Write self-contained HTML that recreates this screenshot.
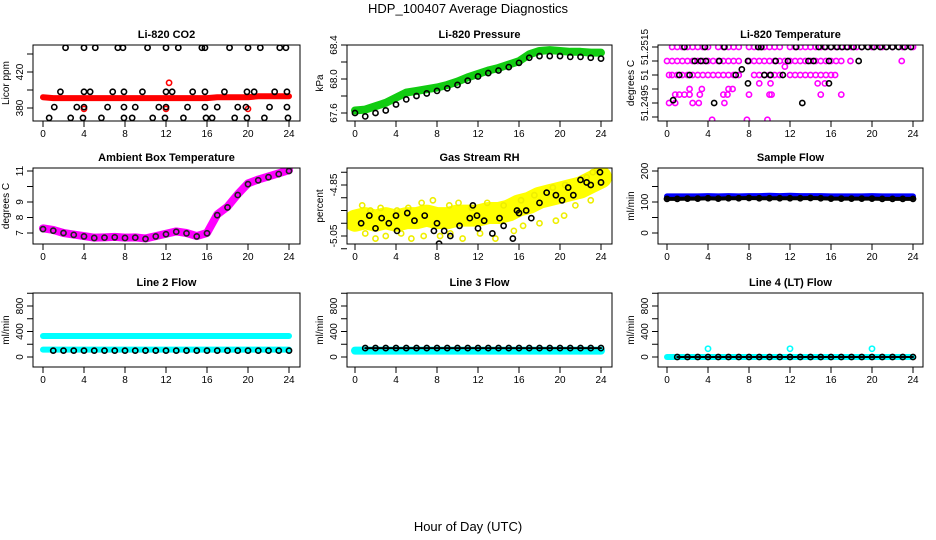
<!DOCTYPE html>
<html><head><meta charset="utf-8"><style>
body{margin:0;background:#fff}
svg{display:block;font-family:"Liberation Sans",sans-serif}
</style></head><body>
<svg id="c" width="936" height="540" viewBox="0 0 936 540">
<text x="468" y="13" text-anchor="middle" font-size="13">HDP_100407  Average Diagnostics</text>
<text x="468" y="531" text-anchor="middle" font-size="13">Hour of Day (UTC)</text>
</svg>
<script>
const hours = [0,1,2,3,4,5,6,7,8,9,10,11,12,13,14,15,16,17,18,19,20,21,22,23,24];
const xTicks = [0,4,8,12,16,20,24];
// CO2
const co2Red = [392,391,391,391,391,391,391,391,391,391,391,391,391,391,391,391,391,392,392,392,392,393,393,393,393];
const co2BlackT = [2.2,4,5.1,7.3,7.8,10.2,12,13.2,15.5,15.8,18.2,20,21.2,23.1,23.7, 1.7,4,4.6,6.8,7.9,9.7,12,12.6,14.6,15.8,17.7,19.9,20.6,22.6,23.8, 1.1,3.3,4,6.3,7.9,9,11.3,12,14.1,15.8,17,19,19.8,22.1,23.8, 0.6,2.7,3.9,5.7,7.9,8.7,10.7,11.9,13.7,15.9,16.5,18.7,19.9,21.6,23.9];
const co2BlackV = [447,447,447,447,447,447,447,447,447,447,447,447,447,447,447, 398,398,398,398,398,398,398,398,398,398,398,398,398,398,398, 381,381,381,381,381,381,381,381,381,381,381,381,381,381,381, 369,369,369,369,369,369,369,369,369,369,369,369,369,369,369];
const co2OutT = [12.3,4,12,20];
const co2OutV = [408,379,379,379];
// Pressure
const presGreen = [67.63,67.64,67.68,67.72,67.78,67.84,67.86,67.88,67.9,67.93,67.97,68.02,68.06,68.1,68.13,68.17,68.21,68.29,68.33,68.34,68.33,68.32,68.32,68.31,68.31];
const presBlack = [67.6,67.56,67.6,67.63,67.7,67.76,67.8,67.83,67.86,67.89,67.93,67.98,68.03,68.07,68.1,68.14,68.19,68.25,68.27,68.27,68.27,68.26,68.26,68.25,68.24];
// Temperature
const tempMagT = [0.5,1,1.5,2,2.5,3,3.5,4,5,5.5,6,6.5,7,8,8.5,9,9.5,10,10.5,11,12,12.5,13,13.5,14,14.5,15,15.5,16,16.5,17,17.5,18,18.5,19,20,21,22,23,24, 0,0.5,1,1.5,2,2.5,3,3.5,4,4.5,5,5.5,6,6.5,7,8,8.5,9,9.5,10,10.5,11,11.5,12,12.5,13,13.5,14,14.5,15,15.5,16,16.5,17,17.9,22.9, 0.2,0.5,1,1.5,2,2.5,3,3.5,4,4.5,5,5.5,6,6.5,7,8.5,9,9.5,10,10.5,11,12,12.5,13,13.5,14,14.5,15,15.5,16,16.4, 0.8,1.2,1.7,2.2,3.2,5.5,5.9,8,10,10.2,15,17, 0.2,0.8,2.5,3.1,5.6,4.4,7.8,9.8,11.5,2.2,3.4,6,6.4,9,10.1,14.7,15.4];
const tempMagV = [51.2515,51.2515,51.2515,51.2515,51.2515,51.2515,51.2515,51.2515,51.2515,51.2515,51.2515,51.2515,51.2515,51.2515,51.2515,51.2515,51.2515,51.2515,51.2515,51.2515,51.2515,51.2515,51.2515,51.2515,51.2515,51.2515,51.2515,51.2515,51.2515,51.2515,51.2515,51.2515,51.2515,51.2515,51.2515,51.2515,51.2515,51.2515,51.2515,51.2515, 51.251,51.251,51.251,51.251,51.251,51.251,51.251,51.251,51.251,51.251,51.251,51.251,51.251,51.251,51.251,51.251,51.251,51.251,51.251,51.251,51.251,51.251,51.251,51.251,51.251,51.251,51.251,51.251,51.251,51.251,51.251,51.251,51.251,51.251,51.251,51.251, 51.2505,51.2505,51.2505,51.2505,51.2505,51.2505,51.2505,51.2505,51.2505,51.2505,51.2505,51.2505,51.2505,51.2505,51.2505,51.2505,51.2505,51.2505,51.2505,51.2505,51.2505,51.2505,51.2505,51.2505,51.2505,51.2505,51.2505,51.2505,51.2505,51.2505,51.2505, 51.2498,51.2498,51.2498,51.2498,51.2498,51.2498,51.2498,51.2498,51.2498,51.2498,51.2498,51.2498, 51.2495,51.2495,51.2495,51.2495,51.2495,51.2489,51.2489,51.2489,51.2508, 51.25,51.25,51.25,51.25,51.2502,51.2502,51.2502,51.2502];
const tempBlackT = [1.7,3.7,5.6,8.9,9.2,12.6,14.8,15.4,16,16.6,17.1,17.6,18.2,19,19.6,20.2,20.8,21.4,22,22.6,23.2,23.8, 2.7,3.3,3.8,5.1,7.9,10.6,11.8,13.8,14.3,15.8,18.7, 1.2,2.2,6.7,9.5,10.1,11.3, 0.6,7.9,15.8, 4.6,13.2,7.3];
const tempBlackV = [51.2515,51.2515,51.2515,51.2515,51.2515,51.2515,51.2515,51.2515,51.2515,51.2515,51.2515,51.2515,51.2515,51.2515,51.2515,51.2515,51.2515,51.2515,51.2515,51.2515,51.2515,51.2515, 51.251,51.251,51.251,51.251,51.251,51.251,51.251,51.251,51.251,51.251,51.251, 51.2505,51.2505,51.2505,51.2505,51.2505,51.2505, 51.2496,51.2502,51.2502, 51.2495,51.2495,51.2507];
// Ambient box temperature
const ambMag = [7.3,7.2,7.0,6.9,6.8,6.7,6.72,6.75,6.7,6.72,6.65,6.8,6.95,7.1,7.0,6.8,7.0,8.2,8.7,9.5,10.2,10.45,10.65,10.85,11.05];
const ambBlack = [7.25,7.15,7.0,6.88,6.78,6.68,6.7,6.72,6.68,6.7,6.62,6.78,6.92,7.08,6.98,6.78,6.98,8.15,8.65,9.45,10.15,10.4,10.6,10.8,11.0];
// Gas stream RH
const rhYellow = [-4.99,-4.98,-4.99,-4.98,-4.99,-4.98,-4.98,-4.97,-4.98,-4.98,-4.97,-4.97,-4.97,-4.96,-4.96,-4.95,-4.93,-4.92,-4.9,-4.89,-4.88,-4.87,-4.86,-4.84,-4.82];
const rhYellowHiT = [0.7,1.5,2.5,4.1,5.2,6.5,7.6,9.2,10.1,11.4,12.9,14.5,16.2,17.5,19.3,20.5,22.6,23.2];
const rhYellowHiV = [-4.93,-4.95,-4.94,-4.95,-4.94,-4.92,-4.91,-4.93,-4.92,-4.94,-4.92,-4.93,-4.91,-4.89,-4.86,-4.85,-4.82,-4.8];
const rhYellowLoT = [1,2,3,4.5,5.5,6.7,8.3,9.3,10.5,12.2,13.7,15.5,16.4,18,19.6,20.4,21.5,23];
const rhYellowLoV = [-5.04,-5.06,-5.05,-5.04,-5.06,-5.05,-5.05,-5.04,-5.06,-5.04,-5.06,-5.03,-5.01,-5.0,-4.99,-4.97,-4.93,-4.91];
const rhBlackT = [0.6,1.4,2,2.6,3.3,4,4.1,5.1,5.8,6.8,7.7,8,8.2,8.7,9.3,10.2,11.2,11.5,11.9,12,12.6,13.4,14.1,14.5,15.4,15.8,16,16.7,17.2,18,18.7,19.6,20.2,20.8,21.3,22,22.6,23,23.9,24];
const rhBlackV = [-5.0,-4.97,-5.02,-4.98,-5.0,-4.97,-5.03,-4.96,-4.99,-4.97,-5.03,-5.0,-5.08,-5.03,-5.05,-5.01,-4.98,-4.93,-4.97,-5.02,-4.99,-5.04,-4.98,-5.01,-5.06,-4.95,-4.96,-4.95,-4.98,-4.92,-4.88,-4.89,-4.91,-4.86,-4.89,-4.83,-4.84,-4.85,-4.8,-4.84];
// Sample flow
const sampBlue = [118,118,118,118,119,118,119,118,119,119,120,119,120,119,119,119,118,118,118,118,119,118,118,118,118];
const sampBlack = [110,110,111,111,112,111,112,112,113,112,112,112,112,112,113,112,111,111,111,111,111,110,110,110,110];
// Line flows
const l2CyanHi = [330,330,330,330,330,330,330,330,330,330,330,330,330,330,330,330,330,330,330,330,330,330,330,330,330];
const l2CyanLo = [115,115,115,115,115,115,115,115,115,115,115,115,115,115,115,115,115,115,115,115,115,115,115,115,115];
const l2Black = [100,100,100,100,100,100,100,100,100,100,100,100,100,100,100,100,100,100,100,100,100,100,100,100,100];
const l3Cyan = [100,100,100,100,100,100,100,100,100,100,100,100,100,100,100,100,100,100,100,100,100,100,100,100,100];
const l3Black = [140,140,140,140,140,140,140,140,140,140,140,140,140,140,140,140,140,140,140,140,140,140,140,140,140];
const l4Cyan = [0,0,0,0,0,0,0,0,0,0,0,0,0,0,0,0,0,0,0,0,0,0,0,0,0];
const l4Black = [0,0,0,0,0,0,0,0,0,0,0,0,0,0,0,0,0,0,0,0,0,0,0,0,0];
const l4OutT = [4,12,20];
const l4OutV = [130,130,130];

const NS = 'http://www.w3.org/2000/svg';
const svg = document.getElementById('c');
function mk(tag, attrs, parent){ const e=document.createElementNS(NS,tag); for(const k in attrs) e.setAttribute(k,attrs[k]); (parent||svg).appendChild(e); return e; }
const cols = [{x0:43,x1:289,bl:33,br:300},{x0:355,x1:601,bl:347,br:612},{x0:667,x1:913,bl:658,br:923}];
const rows = [{t:45,b:121},{t:168,b:244},{t:293,b:367}];

function panel(ci, ri, name, title, ylab, v0, p0, v1, p1, yticks, ylabels){
  const c=cols[ci], r=rows[ri];
  const g=mk('g',{});
  
  
  const xs = h => c.x0 + (h/24)*(c.x1-c.x0);
  const ys = v => p0 + (v-v0)*(p1-p0)/(v1-v0);
  const t=mk('text',{x:(c.bl+c.br)/2,y:r.t-7,'text-anchor':'middle','font-size':11,'font-weight':'bold'},g);
  t.textContent=title;
  
  
  const clip = mk('clipPath',{id:'cl'+ci+ri},g);
  mk('rect',{x:c.bl,y:r.t,width:c.br-c.bl,height:r.b-r.t},clip);
  const plot=mk('g',{'clip-path':'url(#cl'+ci+ri+')'},g);
  
  
  const box=mk('rect',{x:c.bl,y:r.t,width:c.br-c.bl,height:r.b-r.t,fill:'none',stroke:'#000','stroke-width':1},g);
  
  
  xTicks.forEach(h=>{
    mk('line',{x1:xs(h),x2:xs(h),y1:r.b,y2:r.b+6,stroke:'#000'},g);
    const tl=mk('text',{x:xs(h),y:r.b+16,'text-anchor':'middle','font-size':10},g); tl.textContent=h;
    
    
  });
  yticks.forEach((v,i)=>{
    const y=ys(v);
    mk('line',{x1:c.bl-6,x2:c.bl,y1:y,y2:y,stroke:'#000'},g);
    if(ylabels[i]){ const tl=mk('text',{x:0,y:0,'text-anchor':'middle','font-size':10,transform:`translate(${c.bl-10},${y}) rotate(-90)`},g); tl.textContent=ylabels[i];
      
       }
  });
  const yl=mk('text',{x:0,y:0,'text-anchor':'middle','font-size':10,transform:`translate(${c.bl-24},${(r.t+r.b)/2}) rotate(-90)`},g);
  yl.textContent=ylab;
  
  
  return {plot,xs,ys};
}
function band(P, ts, vs, color, w, name){
  const pl=mk('polyline',{points:ts.map((h,i)=>P.xs(h)+','+P.ys(vs[i])).join(' '),fill:'none',stroke:color,'stroke-width':w,'stroke-linecap':'round','stroke-linejoin':'round'},P.plot);
  
  
}
function pts(P, ts, vs, color, name, r){
  const g=mk('g',{},P.plot);
  
  
  ts.forEach((h,i)=>{ mk('circle',{cx:P.xs(h),cy:P.ys(vs[i]),r:r||2.6,fill:'none',stroke:color,'stroke-width':1.6},g); });
}

let P;
P=panel(0,0,'co2-panel','Li-820 CO2','Licor ppm',380,108,420,72,[380,400,420,440],['380','','420','']);
band(P,hours,co2Red,'#f00',6,'co2-red-series');
pts(P,co2OutT,co2OutV,'#f00','co2-red-outliers');
pts(P,co2BlackT,co2BlackV,'#000','co2-black-points');

P=panel(1,0,'pressure-panel','Li-820 Pressure','kPa',67.6,113,68.4,45,[67.6,67.8,68.0,68.2,68.4],['67.6','','68.0','','68.4']);
band(P,hours,presGreen,'#1c1',8,'pressure-green-series');
pts(P,hours,presBlack,'#000','pressure-black-points');

P=panel(2,0,'temperature-panel','Li-820 Temperature','degrees C',51.249,117,51.2515,47,[51.249,51.2495,51.25,51.2505,51.251,51.2515],['','51.2495','','51','','51.2515']);
pts(P,tempMagT,tempMagV,'#f0f','temp-magenta-points');
pts(P,tempBlackT,tempBlackV,'#000','temp-black-points');

P=panel(0,1,'ambient-panel','Ambient Box Temperature','degrees C',7,233,11,171,[7,8,9,10,11],['7','8','9','','11']);
band(P,hours,ambMag,'#f0f',8,'ambient-magenta-series');
pts(P,hours,ambBlack,'#222','ambient-black-points');

P=panel(1,1,'rh-panel','Gas Stream RH','percent',-5.05,236,-4.85,185,[-5.1,-5.05,-5.0,-4.95,-4.9,-4.85,-4.8],['','-5.05','','','','-4.85','']);
band(P,hours,rhYellow,'#ff0',22,'rh-yellow-series');
pts(P,rhYellowHiT,rhYellowHiV,'#ee0','rh-yellow-high-points');
pts(P,rhYellowLoT,rhYellowLoV,'#ee0','rh-yellow-low-points');
pts(P,rhBlackT,rhBlackV,'#000','rh-black-points');

P=panel(2,1,'sample-flow-panel','Sample Flow','ml/min',0,233,200,171,[0,50,100,150,200],['0','','100','','200']);
band(P,hours,sampBlue,'#00f',6,'sample-blue-series');
band(P,hours,sampBlack,'#000',4,'sample-black-line');
pts(P,hours,sampBlack,'#000','sample-black-points');

P=panel(0,2,'line2-flow-panel','Line 2 Flow','ml/min',0,357,800,306,[0,200,400,600,800,1000],['0','','400','','800','']);
band(P,hours,l2CyanHi,'#0ff',6,'line2-cyan-high');
band(P,hours,l2CyanLo,'#0ff',6,'line2-cyan-low');
pts(P,hours.slice(1),l2Black.slice(1),'#000','line2-black-points');

P=panel(1,2,'line3-flow-panel','Line 3 Flow','ml/min',0,357,800,306,[0,200,400,600,800,1000],['0','','400','','800','']);
band(P,hours,l3Cyan,'#0ff',8,'line3-cyan-series');
band(P,hours.slice(1),l3Black.slice(1),'#000',2,'line3-black-line');
pts(P,hours.slice(1),l3Black.slice(1),'#000','line3-black-points');

P=panel(2,2,'line4-flow-panel','Line 4 (LT) Flow','ml/min',0,357,800,306,[0,200,400,600,800,1000],['0','','400','','800','']);
band(P,hours,l4Cyan,'#0ff',6,'line4-cyan-series');
band(P,hours.slice(1),l4Black.slice(1),'#000',2,'line4-black-line');
pts(P,hours.slice(1),l4Black.slice(1),'#000','line4-black-points');
pts(P,l4OutT,l4OutV,'#0ff','line4-cyan-outliers');
</script>
</body></html>
